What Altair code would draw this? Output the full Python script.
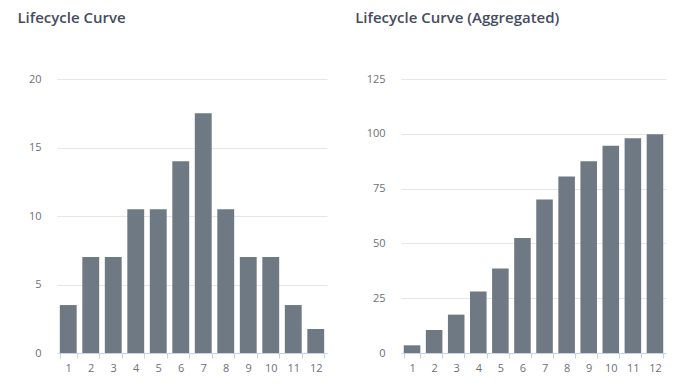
import altair as alt
import pandas as pd

months = [1, 2, 3, 4, 5, 6, 7, 8, 9, 10, 11, 12]
lifecycle = [3.5, 7, 7, 10.5, 10.5, 14, 17.5, 10.5, 7, 7, 3.5, 1.75]
aggregated = [3.5, 10.5, 17.5, 28, 38.5, 52.5, 70, 80.5, 87.5, 94.5, 98, 99.75]

df1 = pd.DataFrame({"m": months, "v": lifecycle})
df2 = pd.DataFrame({"m": months, "v": aggregated})

BAR = "#6f7984"
FONT = "Open Sans"
AXIS_BLUE = "#c7d2e6"


def panel(df, title, ymax, step, w):
    x = alt.X(
        "m:O",
        scale=alt.Scale(paddingInner=0.25, paddingOuter=0.125),
        axis=alt.Axis(
            title=None,
            labelAngle=0,
            tickBand="extent",
            tickSize=5,
            tickColor=AXIS_BLUE,
            domainColor=AXIS_BLUE,
            labelColor="#6e7079",
            labelFontSize=11,
            labelFont=FONT,
            labelPadding=4,
        ),
    )
    y = alt.Y(
        "v:Q",
        scale=alt.Scale(domain=[0, ymax], nice=False),
        axis=alt.Axis(
            title=None,
            values=list(range(0, ymax + 1, step)),
            domain=False,
            ticks=False,
            gridColor="#e6e6e6",
            labelColor="#6e7079",
            labelFontSize=11,
            labelFont=FONT,
            labelPadding=16,
        ),
    )
    return (
        alt.Chart(df)
        .mark_bar(color=BAR)
        .encode(x=x, y=y)
        .properties(
            width=w,
            height=274,
            title=alt.TitleParams(
                title,
                anchor="start",
                dx=-11,
                offset=47,
                fontSize=15,
                font=FONT,
                fontWeight=600,
                color="#464c5e",
            ),
        )
    )


left = panel(df1, "Lifecycle Curve", 20, 5, 270)
right = panel(df2, "Lifecycle Curve (Aggregated)", 125, 25, 265)

chart = (
    alt.hconcat(left, right, spacing=28)
    .properties(padding={"left": 9, "top": 3, "right": 5, "bottom": 0})
    .configure_view(stroke=None)
)

chart.save("out.html", embed_options={"renderer": "svg", "actions": False})
